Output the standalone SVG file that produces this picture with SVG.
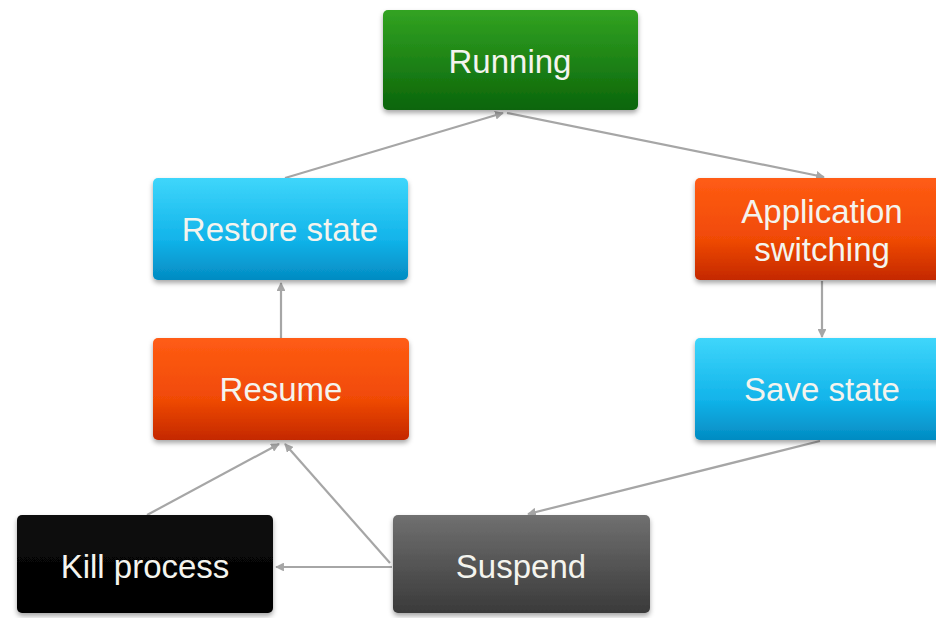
<svg xmlns="http://www.w3.org/2000/svg" width="936" height="618" viewBox="0 0 936 618">
<defs>
<linearGradient id="gGreen" x1="0" y1="0" x2="0" y2="1"><stop offset="0" stop-color="#32a322"/><stop offset="1" stop-color="#0b650a"/></linearGradient>
<linearGradient id="gBlue" x1="0" y1="0" x2="0" y2="1"><stop offset="0" stop-color="#3fd6fb"/><stop offset="0.6" stop-color="#12b4ea"/><stop offset="1" stop-color="#038bc2"/></linearGradient>
<linearGradient id="gRed" x1="0" y1="0" x2="0" y2="1"><stop offset="0" stop-color="#ff5c14"/><stop offset="0.6" stop-color="#f04a06"/><stop offset="1" stop-color="#c42800"/></linearGradient>
<linearGradient id="gBlack" x1="0" y1="0" x2="0" y2="1"><stop offset="0" stop-color="#0c0c0c"/><stop offset="1" stop-color="#000"/></linearGradient>
<linearGradient id="gGrey" x1="0" y1="0" x2="0" y2="1"><stop offset="0" stop-color="#707070"/><stop offset="1" stop-color="#3a3a3a"/></linearGradient>
<filter id="sh" x="-10%" y="-10%" width="120%" height="130%"><feDropShadow dx="0" dy="3" stdDeviation="2.5" flood-color="#000" flood-opacity="0.35"/></filter>
<marker id="ah" viewBox="0 0 10 10" refX="9" refY="5" markerWidth="4" markerHeight="4" orient="auto"><path d="M0,0 L10,5 L0,10 z" fill="#a6a6a6"/></marker>
</defs>
<style>
.box{filter:url(#sh);}
.lbl{font-family:"Liberation Sans",Arial,sans-serif;font-size:33px;fill:#f4f4ee;text-anchor:middle;}
.con line{stroke:#a6a6a6;stroke-width:2.2;marker-end:url(#ah);}
</style>
<rect width="936" height="618" fill="#fff"/>
<g class="con" id="connectors">
<line x1="285" y1="178" x2="503" y2="113"/>
<line x1="507" y1="113" x2="824" y2="177"/>
<line x1="822" y1="281" x2="822" y2="337"/>
<line x1="820" y1="441" x2="528" y2="514"/>
<line x1="392" y1="567" x2="276" y2="567"/>
<line x1="390" y1="563" x2="285" y2="444"/>
<line x1="147" y1="515" x2="279" y2="444"/>
<line x1="281" y1="338" x2="281" y2="283"/>
</g>
<g id="running"><rect class="box" x="383" y="10" width="255" height="100" rx="5" fill="url(#gGreen)"/><text class="lbl" x="510" y="73">Running</text></g>
<g id="restore-state"><rect class="box" x="153" y="178" width="255" height="102" rx="5" fill="url(#gBlue)"/><text class="lbl" x="280" y="241">Restore state</text></g>
<g id="application-switching"><rect class="box" x="695" y="178" width="256" height="102" rx="5" fill="url(#gRed)"/><text class="lbl" x="822" y="223">Application</text><text class="lbl" x="822" y="261">switching</text></g>
<g id="resume"><rect class="box" x="153" y="338" width="256" height="102" rx="5" fill="url(#gRed)"/><text class="lbl" x="281" y="401">Resume</text></g>
<g id="save-state"><rect class="box" x="695" y="338" width="256" height="102" rx="5" fill="url(#gBlue)"/><text class="lbl" x="822" y="401">Save state</text></g>
<g id="kill-process"><rect class="box" x="17" y="515" width="256" height="98" rx="5" fill="url(#gBlack)"/><text class="lbl" x="145" y="578">Kill process</text></g>
<g id="suspend"><rect class="box" x="393" y="515" width="257" height="98" rx="5" fill="url(#gGrey)"/><text class="lbl" x="521" y="578">Suspend</text></g>
</svg>
